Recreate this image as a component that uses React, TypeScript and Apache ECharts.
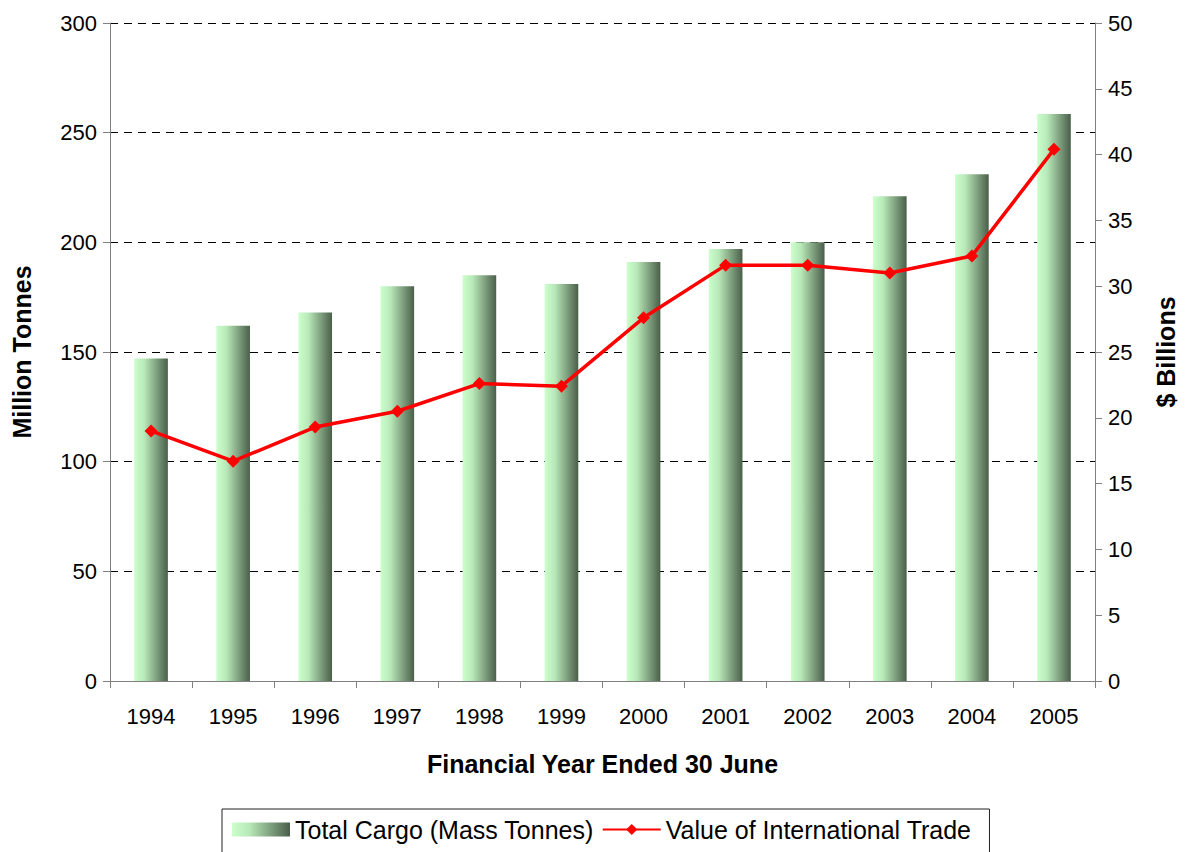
import React, { useEffect, useRef } from "react";
import * as echarts from "echarts";

const years = ["1994", "1995", "1996", "1997", "1998", "1999", "2000", "2001", "2002", "2003", "2004", "2005"];
const cargo = [147, 162, 168, 180, 185, 181, 191, 197, 200, 221, 231, 258.5];
const trade = [19.0, 16.7, 19.3, 20.5, 22.6, 22.4, 27.6, 31.6, 31.6, 31.0, 32.3, 40.4];

const FONT = "Liberation Sans, Arial, sans-serif";

export default function App() {
  const ref = useRef<HTMLDivElement>(null);
  useEffect(() => {
    if (!ref.current) return;
    const chart = echarts.init(ref.current, undefined, { renderer: "svg" });
    const barGrad = new echarts.graphic.LinearGradient(0, 0, 1, 0, [
      { offset: 0, color: "#CCFFCC" },
      { offset: 0.3, color: "#B8E8B8" },
      { offset: 1, color: "#4A5E4A" },
    ]);
    chart.setOption({
      animation: false,
      backgroundColor: "#ffffff",
      textStyle: { fontFamily: FONT },
      grid: { left: 110, right: 91, top: 23, bottom: 171, containLabel: false },
      legend: {
        left: 222,
        top: 809,
        width: 800,
        padding: [8, 18, 14, 10],
        borderColor: "#222",
        borderWidth: 1,
        itemWidth: 58,
        itemHeight: 14,
        itemGap: 8,
        textStyle: { fontSize: 25, color: "#000", fontFamily: FONT },
        data: [
          { name: "Total Cargo (Mass Tonnes)", icon: "rect" },
          { name: "Value of International Trade" },
        ],
      },
      xAxis: {
        type: "category",
        data: years,
        name: "Financial Year Ended 30 June",
        nameLocation: "middle",
        nameGap: 70,
        nameTextStyle: { fontSize: 25, fontWeight: "bold", color: "#000", fontFamily: FONT },
        axisLine: { lineStyle: { color: "#808080", width: 1 } },
        axisTick: { show: true, alignWithLabel: false, length: 7, lineStyle: { color: "#808080" } },
        axisLabel: { fontSize: 22, color: "#000", margin: 24, fontFamily: FONT },
      },
      yAxis: [
        {
          type: "value",
          min: 0,
          max: 300,
          interval: 50,
          name: "Million Tonnes",
          nameLocation: "middle",
          nameRotate: 90,
          nameGap: 76,
          nameTextStyle: { fontSize: 25, fontWeight: "bold", color: "#000", fontFamily: FONT },
          axisLine: { show: true, lineStyle: { color: "#808080" } },
          axisTick: { show: true, length: 7, lineStyle: { color: "#808080" } },
          axisLabel: { fontSize: 22, color: "#000", margin: 13, fontFamily: FONT },
          splitLine: { show: true, lineStyle: { color: "#000", type: [8, 6], width: 1 } },
        },
        {
          type: "value",
          min: 0,
          max: 50,
          interval: 5,
          position: "right",
          name: "$ Billions",
          nameLocation: "middle",
          nameRotate: 90,
          nameGap: 58,
          nameTextStyle: { fontSize: 25, fontWeight: "bold", color: "#000", fontFamily: FONT },
          axisLine: { show: true, lineStyle: { color: "#808080" } },
          axisTick: { show: true, length: 7, lineStyle: { color: "#808080" } },
          axisLabel: { fontSize: 22, color: "#000", margin: 13, fontFamily: FONT },
          splitLine: { show: false },
        },
      ],
      series: [
        {
          name: "Total Cargo (Mass Tonnes)",
          type: "bar",
          data: cargo,
          yAxisIndex: 0,
          barWidth: "41%",
          itemStyle: { color: barGrad },
        },
        {
          name: "Value of International Trade",
          type: "line",
          data: trade,
          yAxisIndex: 1,
          symbol: "diamond",
          symbolSize: 13,
          lineStyle: { color: "#FF0000", width: 3.5 },
          itemStyle: { color: "#FF0000" },
        },
      ],
    });
    return () => chart.dispose();
  }, []);
  return <div ref={ref} style={{ width: 1186, height: 852, position: "absolute", left: 0, top: 0 }} />;
}
